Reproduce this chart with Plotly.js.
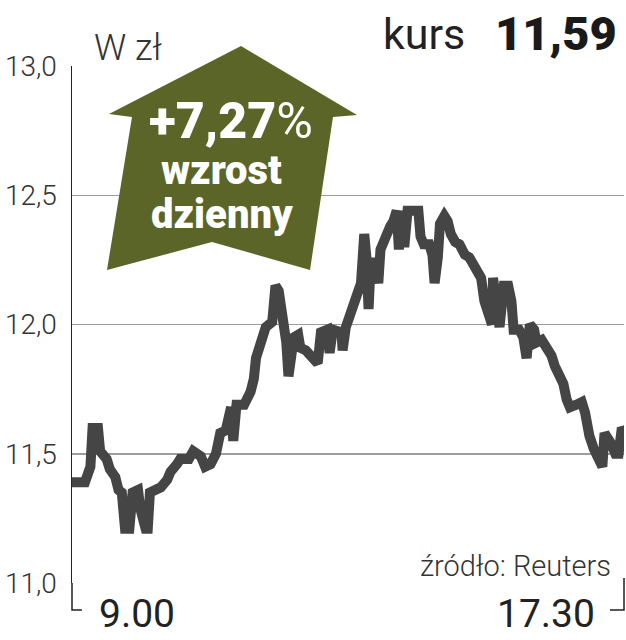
<!DOCTYPE html>
<html>
<head>
<meta charset="utf-8">
<script src="https://cdn.plot.ly/plotly-3.0.1.min.js"></script>
<style>html,body{margin:0;padding:0;background:#fff;}#chart{width:626px;height:640px;}</style>
</head>
<body>
<div id="chart"></div>
<script>
// minutes after 9:00
var minutes = [0,12,17,19,24,26,32,35,40,43,46,49,53,56,61,63,68,70,72,77,82,88,91,97,100,108,112,119,123,128,133,137,142,147,149,152,159,165,168,170,174,179,185,188,191,195,198,200,205,209,211,216,223,227,230,236,238,241,249,250,253,258,262,267,270,272,274,276,280,283,285,288,291,294,297,300,302,304,307,310,320,322,325,330,333,335,338,340,344,347,350,354,358,363,367,372,376,378,381,385,388,389,392,395,399,403,406,408,413,417,420,423,427,429,434,439,443,446,451,454,457,460,466,471,474,476,478,482,485,490,492,496,498,502,505,508,510];
var prices = [11.39,11.39,11.45,11.60,11.60,11.51,11.48,11.44,11.41,11.36,11.35,11.21,11.21,11.35,11.36,11.29,11.21,11.21,11.35,11.36,11.37,11.40,11.43,11.46,11.48,11.48,11.51,11.49,11.45,11.46,11.50,11.58,11.59,11.68,11.55,11.69,11.69,11.74,11.79,11.87,11.94,11.99,12.01,12.15,12.13,12.01,11.93,11.80,11.95,11.96,11.91,11.90,11.86,11.85,11.97,11.98,11.89,11.98,11.97,11.90,11.99,12.06,12.12,12.16,12.35,12.26,12.06,12.24,12.24,12.16,12.29,12.33,12.35,12.38,12.40,12.44,12.29,12.44,12.30,12.44,12.44,12.34,12.31,12.31,12.27,12.16,12.26,12.39,12.42,12.40,12.35,12.32,12.31,12.27,12.26,12.22,12.19,12.18,12.09,12.02,12.00,12.18,12.08,11.99,12.15,12.15,12.09,11.98,11.98,11.95,11.87,12.00,11.98,11.93,11.94,11.91,11.88,11.84,11.80,11.77,11.71,11.68,11.69,11.70,11.66,11.60,11.57,11.52,11.50,11.45,11.58,11.56,11.54,11.50,11.50,11.60,11.59];
var yTickVals = [11.0, 11.5, 12.0, 12.5, 13.0];
var yTickText = ['11,0', '11,5', '12,0', '12,5', '13,0'];
var xStartLabel = '9.00';
var xEndLabel = '17.30';
var unitLabel = 'W zł';
var kursLabel = 'kurs';
var kursValue = '11,59';
var changeText = '+7,27';
var changeLine2 = 'wzrost';
var changeLine3 = 'dzienny';
var sourceText = 'źródło: Reuters';

var FONT = 'Roboto, "Open Sans", "DejaVu Sans", sans-serif';
var green = '#5b6527';

var trace = {
  x: minutes, y: prices, type: 'scatter', mode: 'lines',
  line: {color: '#454545', width: 10, shape: 'linear'},
  hoverinfo: 'skip'
};

var layout = {
  width: 626, height: 640,
  margin: {l: 72, r: 2, t: 66, b: 57},
  paper_bgcolor: '#fff', plot_bgcolor: '#fff',
  showlegend: false,
  xaxis: {range: [0, 510], showgrid: false, zeroline: false, showticklabels: false, ticks: '', showline: false, fixedrange: true},
  yaxis: {range: [11, 13], tickvals: yTickVals, ticktext: yTickText, showgrid: true, gridcolor: '#9c9c9c', gridwidth: 1.5,
          zeroline: false, showline: true, linecolor: '#222', linewidth: 1.5, ticks: '', ticklabelstandoff: 8,
          tickfont: {family: FONT, size: 28, color: '#333', weight: 300}, fixedrange: true},
  shapes: [
    {type: 'path', xref: 'paper', yref: 'paper', path: 'M 0,0 L 0,-0.0522 L 0.018,-0.0522', line: {color: '#222', width: 1.5}},
    {type: 'path', xref: 'paper', yref: 'paper', path: 'M 1,0.0097 L 1,-0.0522 L 0.9746,-0.0522', line: {color: '#222', width: 1.5}},
    {type: 'path', xref: 'paper', yref: 'paper', layer: 'above',
     path: 'M 0.3062,1.0387 L 0.5163,0.9052 L 0.4728,0.9014 L 0.4312,0.6054 L 0.2536,0.6596 L 0.0634,0.6054 L 0.1087,0.9014 L 0.0670,0.9072 Z',
     fillcolor: green, line: {width: 0}}
  ],
  annotations: [
    {text: unitLabel, xref: 'paper', yref: 'paper', x: 0.036, y: 1.035, xanchor: 'left', yanchor: 'middle', showarrow: false,
     font: {family: FONT, size: 36, color: '#333', weight: 300}},
    {text: kursLabel, xref: 'paper', yref: 'paper', x: 0.7156, y: 1.062, xanchor: 'right', yanchor: 'middle', showarrow: false,
     font: {family: FONT, size: 43, color: '#222'}},
    {text: kursValue, xref: 'paper', yref: 'paper', x: 0.7627, y: 1.062, xanchor: 'left', yanchor: 'middle', showarrow: false,
     font: {family: FONT, size: 47, color: '#1a1a1a', weight: 900}},
    {text: '<span style="font-weight:900">' + changeText + '</span><span style="font-weight:400">%</span>', xref: 'paper', yref: 'paper', x: 0.288, y: 0.893, xanchor: 'center', yanchor: 'middle', showarrow: false,
     font: {family: FONT, size: 50, color: '#fff', weight: 900}},
    {text: changeLine2, xref: 'paper', yref: 'paper', x: 0.270, y: 0.797, xanchor: 'center', yanchor: 'middle', showarrow: false,
     font: {family: FONT, size: 40, color: '#fff', weight: 900}},
    {text: changeLine3, xref: 'paper', yref: 'paper', x: 0.271, y: 0.712, xanchor: 'center', yanchor: 'middle', showarrow: false,
     font: {family: FONT, size: 40, color: '#fff', weight: 900}},
    {text: xStartLabel, xref: 'paper', yref: 'paper', x: 0.0453, y: -0.06, xanchor: 'left', yanchor: 'middle', showarrow: false,
     font: {family: FONT, size: 39, color: '#222'}},
    {text: xEndLabel, xref: 'paper', yref: 'paper', x: 0.951, y: -0.06, xanchor: 'right', yanchor: 'middle', showarrow: false,
     font: {family: FONT, size: 39, color: '#222'}},
    {text: sourceText, xref: 'paper', yref: 'paper', x: 0.980, y: 0.033, xanchor: 'right', yanchor: 'middle', showarrow: false,
     font: {family: FONT, size: 29, color: '#333', weight: 300}}
  ]
};

Plotly.newPlot('chart', [trace], layout, {displayModeBar: false, staticPlot: true});
</script>
</body>
</html>
